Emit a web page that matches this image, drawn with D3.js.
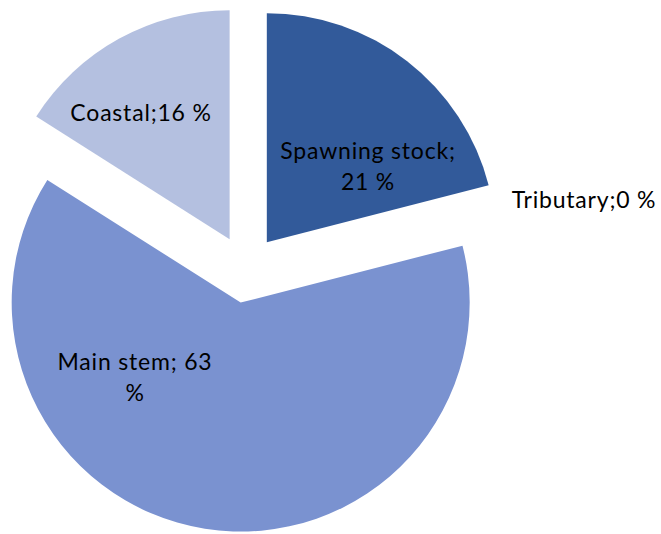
<!DOCTYPE html>
<html><head><meta charset="utf-8">
<script src="https://cdn.jsdelivr.net/npm/d3@7"></script>
<style>body{margin:0;background:#fff}svg{display:block}</style>
</head><body>
<script>
const categories = ["Spawning stock", "Tributary", "Main stem", "Coastal"];
const values = [21, 0, 63, 16];
const colors = ["#325A9A", "#4A6FB8", "#7A92D0", "#B4C0E0"];
// label lines as displayed
const labelLines = [["Spawning stock;", "21 %"], ["Tributary;0 %"], ["Main stem; 63", "%"], ["Coastal;16 %"]];
// label centre offsets from pie centre (layout)
const labelOffsets = [[122, -103], [338, -69], [-111, 108], [-105, -156]];

const W = 661, H = 534, cx = 246, cy = 269, R = 229, explode = 34;
const svg = d3.select("body").append("svg").attr("width", W).attr("height", H);
const g = svg.append("g").attr("transform", `translate(${cx},${cy})`);
const pie = d3.pie().sort(null).value(d => d)(values);
const arc = d3.arc().innerRadius(0).outerRadius(R);
pie.forEach((p, i) => {
  if (p.value <= 0) return;
  const mid = (p.startAngle + p.endAngle) / 2;
  const dx = explode * Math.sin(mid), dy = -explode * Math.cos(mid);
  g.append("path").attr("d", arc(p)).attr("fill", colors[i])
    .attr("transform", `translate(${dx},${dy})`);
});
const lh = 31;
labelLines.forEach((lines, i) => {
  const [ox, oy] = labelOffsets[i];
  const t = g.append("text").attr("text-anchor", "middle")
    .attr("font-family", "Lato, 'Noto Sans', sans-serif").attr("font-size", 23)
    .attr("letter-spacing", "0.8px").attr("fill", "#000");
  const y0 = oy - (lines.length - 1) * lh / 2;
  lines.forEach((l, j) => {
    t.append("tspan").attr("x", ox).attr("y", y0 + j * lh).attr("dy", "0.35em").text(l);
  });
});
</script>
</body></html>
